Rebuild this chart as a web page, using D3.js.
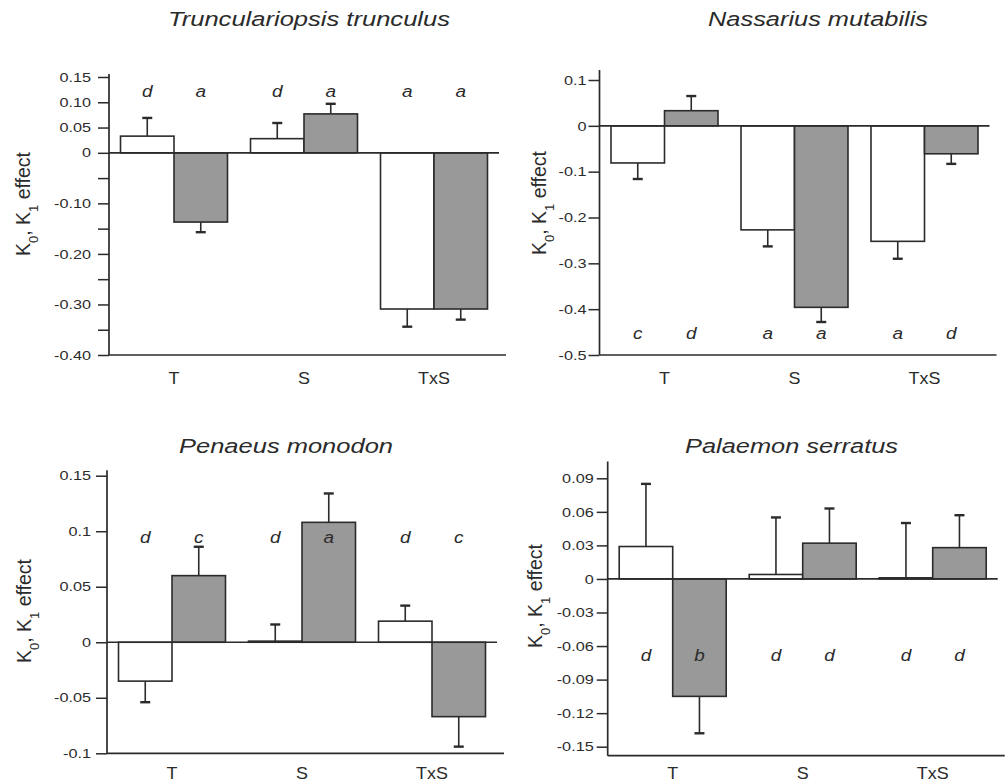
<!DOCTYPE html>
<html>
<head>
<meta charset="utf-8">
<script src="https://cdn.jsdelivr.net/npm/d3@7"></script>
<style>
  body { margin: 0; background: #fff; }
  text { font-family: "Liberation Sans", Arial, sans-serif; fill: #2b2b2b; }
</style>
</head>
<body>
<script>
// categories
const groups = ["T", "S", "TxS"];

// Trunculariopsis trunculus
const truncK0 = [0.033, 0.028, -0.309];
const truncK0Err = [0.036, 0.031, 0.035];
const truncK1 = [-0.137, 0.077, -0.309];
const truncK1Err = [0.020, 0.020, 0.021];
const truncK0Letters = ["d", "d", "a"];
const truncK1Letters = ["a", "a", "a"];
const truncTicks = [0.15, 0.10, 0.05, 0, -0.05, -0.10, -0.15, -0.20, -0.25, -0.30, -0.35, -0.40];
const truncTickLabels = ["0.15", "0.10", "0.05", "0", "", "-0.10", "", "-0.20", "", "-0.30", "", "-0.40"];

// Nassarius mutabilis
const nassK0 = [-0.081, -0.227, -0.252];
const nassK0Err = [0.035, 0.036, 0.038];
const nassK1 = [0.033, -0.396, -0.061];
const nassK1Err = [0.032, 0.032, 0.022];
const nassK0Letters = ["c", "a", "a"];
const nassK1Letters = ["d", "a", "d"];
const nassTicks = [0.1, 0, -0.1, -0.2, -0.3, -0.4, -0.5];
const nassTickLabels = ["0.1", "0", "-0.1", "-0.2", "-0.3", "-0.4", "-0.5"];

// Penaeus monodon
const penK0 = [-0.035, 0.001, 0.019];
const penK0Err = [0.019, 0.015, 0.014];
const penK1 = [0.060, 0.108, -0.067];
const penK1Err = [0.026, 0.026, 0.027];
const penK0Letters = ["d", "d", "d"];
const penK1Letters = ["c", "a", "c"];
const penTicks = [0.15, 0.1, 0.05, 0, -0.05, -0.1];
const penTickLabels = ["0.15", "0.1", "0.05", "0", "-0.05", "-0.1"];

// Palaemon serratus
const palK0 = [0.029, 0.004, 0.001];
const palK0Err = [0.056, 0.051, 0.049];
const palK1 = [-0.105, 0.032, 0.028];
const palK1Err = [0.033, 0.031, 0.029];
const palK0Letters = ["d", "d", "d"];
const palK1Letters = ["b", "d", "d"];
const palTicks = [0.09, 0.06, 0.03, 0, -0.03, -0.06, -0.09, -0.12, -0.15];
const palTickLabels = ["0.09", "0.06", "0.03", "0", "-0.03", "-0.06", "-0.09", "-0.12", "-0.15"];

const ink = "#2b2b2b";
const grey = "#999";

const svg = d3.select("body").append("svg")
  .attr("width", 1005)
  .attr("height", 784);

// layout of the four panels
const panels = [
  { title: "Trunculariopsis trunculus", tx: 168, ty: 26, tlen: 282,
    k0: truncK0, k0e: truncK0Err, k1: truncK1, k1e: truncK1Err, l0: truncK0Letters, l1: truncK1Letters,
    ticks: truncTicks, tickLabels: truncTickLabels,
    x0: 109, domain: [-0.40, 0.15], range: [355, 77], bottom: -0.40, top: 0.156,
    letterAt: 0.110, labelX: 30, labelY: 204, pad: 7, catDy: 29 },
  { title: "Nassarius mutabilis", tx: 708, ty: 26, tlen: 220,
    k0: nassK0, k0e: nassK0Err, k1: nassK1, k1e: nassK1Err, l0: nassK0Letters, l1: nassK1Letters,
    ticks: nassTicks, tickLabels: nassTickLabels,
    x0: 599.5, domain: [-0.5, 0.1], range: [355, 80], bottom: -0.5, top: 0.122,
    letterAt: -0.466, labelX: 546, labelY: 203, pad: 2, catDy: 29 },
  { title: "Penaeus monodon", tx: 179, ty: 453, tlen: 214,
    k0: penK0, k0e: penK0Err, k1: penK1, k1e: penK1Err, l0: penK0Letters, l1: penK1Letters,
    ticks: penTicks, tickLabels: penTickLabels,
    x0: 107, domain: [-0.1, 0.15], range: [753.3, 475.7], bottom: -0.1, top: 0.155,
    letterAt: 0.0897, labelX: 31, labelY: 611, pad: 5, catDy: 26 },
  { title: "Palaemon serratus", tx: 685, ty: 453, tlen: 213,
    k0: palK0, k0e: palK0Err, k1: palK1, k1e: palK1Err, l0: palK0Letters, l1: palK1Letters,
    ticks: palTicks, tickLabels: palTickLabels,
    x0: 607.7, domain: [-0.15, 0.09], range: [746.7, 478.3], bottom: -0.158, top: 0.105,
    letterAt: -0.073, labelX: 542, labelY: 596, pad: 3, catDy: 23 }
];

const tickStretch = 1.25;
const letterStretch = 1.15;
const catStretch = 1.12;

function drawPanel(p) {
  const g = svg.append("g");

  const x = d3.scaleBand()
    .domain(groups)
    .range([p.x0, p.x0 + 390])
    .paddingInner(0.177)
    .paddingOuter(0.0885);

  const half = x.bandwidth() / 2;

  const y = d3.scaleLinear()
    .domain(p.domain)
    .range(p.range);

  // title
  g.append("text")
    .attr("x", p.tx)
    .attr("y", p.ty)
    .attr("textLength", p.tlen)
    .attr("lengthAdjust", "spacingAndGlyphs")
    .style("font-size", "20px")
    .style("font-style", "italic")
    .text(p.title);

  // y axis
  let yaxis = g.append("g")
    .attr("transform", "translate(" + p.x0 + ",0)")
    .call(d3.axisLeft(y)
      .tickValues(p.ticks)
      .tickSize(11)
      .tickFormat((d, i) => p.tickLabels[i]));

  yaxis.select(".domain").remove();
  yaxis.selectAll(".tick line").attr("stroke", ink).attr("stroke-width", 1.5);
  yaxis.selectAll(".tick text")
    .attr("x", -(11 + p.pad) / tickStretch)
    .attr("transform", "scale(" + tickStretch + ",1)")
    .style("font-size", "13px")
    .attr("fill", ink)
    .style("font-family", "'Liberation Sans', Arial, sans-serif");

  g.append("line")
    .attr("x1", p.x0).attr("x2", p.x0)
    .attr("y1", y(p.bottom)).attr("y2", y(p.top))
    .attr("stroke", ink).attr("stroke-width", 1.7);

  // bottom line
  g.append("line")
    .attr("x1", p.x0).attr("x2", p.x0 + 397)
    .attr("y1", y(p.bottom)).attr("y2", y(p.bottom))
    .attr("stroke", ink).attr("stroke-width", 1.7);

  // category labels
  g.selectAll(".cat")
    .data(groups)
    .enter().append("text")
    .attr("class", "cat")
    .attr("x", d => (x(d) + half) / catStretch)
    .attr("y", y(p.bottom) + p.catDy)
    .attr("transform", "scale(" + catStretch + ",1)")
    .attr("text-anchor", "middle")
    .style("font-size", "16px")
    .text(d => d);

  // y label
  let ylab = g.append("text")
    .attr("transform", "translate(" + p.labelX + "," + p.labelY + ") rotate(-90)")
    .attr("text-anchor", "middle")
    .style("font-size", "19.5px");
  ylab.append("tspan").text("K");
  ylab.append("tspan").attr("baseline-shift", "sub").style("font-size", "13px").text("0");
  ylab.append("tspan").text(", K");
  ylab.append("tspan").attr("baseline-shift", "sub").style("font-size", "13px").text("1");
  ylab.append("tspan").text(" effect");

  const series = [
    { vals: p.k0, errs: p.k0e, letters: p.l0, fill: "#fff", off: -half },
    { vals: p.k1, errs: p.k1e, letters: p.l1, fill: grey, off: 0 }
  ];

  series.forEach(s => {
    const rows = groups.map((gr, i) => ({ g: gr, v: s.vals[i], e: s.errs[i], l: s.letters[i] }));
    const cx = d => x(d.g) + half + s.off + half / 2;
    const end = d => d.v >= 0 ? d.v + d.e : d.v - d.e;

    // error bars
    g.selectAll(null)
      .data(rows)
      .enter().append("line")
      .attr("x1", cx).attr("x2", cx)
      .attr("y1", d => y(d.v)).attr("y2", d => y(end(d)))
      .attr("stroke", ink).attr("stroke-width", 1.6);

    g.selectAll(null)
      .data(rows)
      .enter().append("line")
      .attr("x1", d => cx(d) - 5).attr("x2", d => cx(d) + 5)
      .attr("y1", d => y(end(d))).attr("y2", d => y(end(d)))
      .attr("stroke", ink).attr("stroke-width", 2.4);

    // bars
    g.selectAll(null)
      .data(rows)
      .enter().append("rect")
      .attr("x", d => x(d.g) + half + s.off)
      .attr("width", half)
      .attr("y", d => y(Math.max(0, d.v)))
      .attr("height", d => Math.abs(y(d.v) - y(0)))
      .attr("fill", s.fill)
      .attr("stroke", ink)
      .attr("stroke-width", 1.6);

    // letters
    g.selectAll(null)
      .data(rows)
      .enter().append("text")
      .attr("x", d => cx(d) / letterStretch)
      .attr("y", y(p.letterAt))
      .attr("transform", "scale(" + letterStretch + ",1)")
      .attr("text-anchor", "middle")
      .style("font-size", "16.5px")
      .style("font-style", "italic")
      .text(d => d.l);
  });

  // zero line
  g.append("line")
    .attr("x1", p.x0).attr("x2", p.x0 + 390)
    .attr("y1", y(0)).attr("y2", y(0))
    .attr("stroke", ink).attr("stroke-width", 1.7);
}

panels.forEach(drawPanel);
</script>
</body>
</html>
